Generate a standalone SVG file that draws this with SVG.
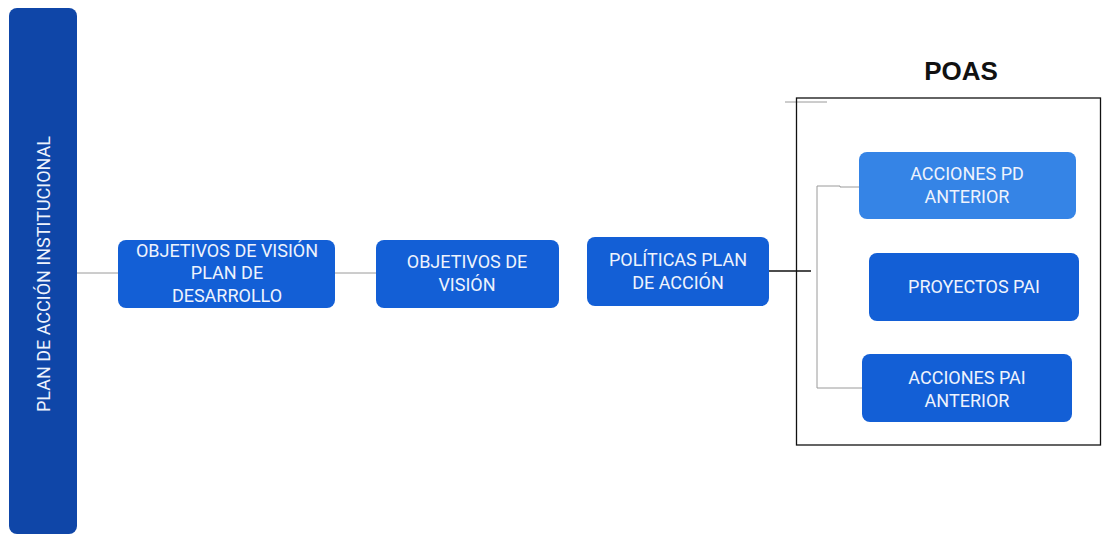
<svg xmlns="http://www.w3.org/2000/svg" width="1102" height="535" viewBox="0 0 1102 535">
<style>
.n{fill:#135fd6}
.t{font-family:Roboto,"Liberation Sans",sans-serif;font-size:18px;fill:#eef3fd;text-anchor:middle}
.g{stroke:#9a9a9a;stroke-width:1;fill:none}
.k{stroke:#111;stroke-width:1.3;fill:none}
</style>
<rect width="1102" height="535" fill="#ffffff"/>
<g id="connectors">
<line class="g" x1="77" y1="273" x2="118" y2="273"/>
<line class="g" x1="335" y1="273" x2="376" y2="273"/>
<line class="k" x1="769" y1="271" x2="811" y2="271"/>
<line class="g" x1="785" y1="102" x2="827" y2="102"/>
<polyline class="g" points="859,187 840,187 840,186 817,186 817,388 862,388"/>
</g>
<g id="poas">
<rect class="k" x="796.5" y="98" width="304" height="347"/>
<text x="961" y="80" style="font-family:'Liberation Sans',Arial,sans-serif;font-size:26px;font-weight:bold;fill:#111;text-anchor:middle">POAS</text>
</g>
<g id="plan-accion">
<rect x="9" y="8" width="68" height="526" rx="8" fill="#0f46a8"/>
<text class="t" transform="translate(50,274) rotate(-90)">PLAN DE ACCIÓN INSTITUCIONAL</text>
</g>
<g id="obj-vision-pd">
<rect class="n" x="118" y="240" width="217" height="68" rx="8"/>
<text class="t" x="227" y="257">OBJETIVOS DE VISIÓN</text>
<text class="t" x="227" y="279">PLAN DE</text>
<text class="t" x="227" y="302">DESARROLLO</text>
</g>
<g id="obj-vision">
<rect class="n" x="376" y="240" width="183" height="68" rx="8"/>
<text class="t" x="467" y="268">OBJETIVOS DE</text>
<text class="t" x="467" y="291">VISIÓN</text>
</g>
<g id="politicas">
<rect class="n" x="587" y="237" width="182" height="69" rx="8"/>
<text class="t" x="678" y="266">POLÍTICAS PLAN</text>
<text class="t" x="678" y="289">DE ACCIÓN</text>
</g>
<g id="acciones-pd">
<rect x="859" y="152" width="217" height="67" rx="8" fill="#3584e6"/>
<text class="t" x="967" y="180">ACCIONES PD</text>
<text class="t" x="967" y="203">ANTERIOR</text>
</g>
<g id="proyectos-pai">
<rect class="n" x="869" y="253" width="210" height="68" rx="8"/>
<text class="t" x="974" y="293">PROYECTOS PAI</text>
</g>
<g id="acciones-pai">
<rect class="n" x="862" y="354" width="210" height="68" rx="8"/>
<text class="t" x="967" y="384">ACCIONES PAI</text>
<text class="t" x="967" y="407">ANTERIOR</text>
</g>
</svg>
